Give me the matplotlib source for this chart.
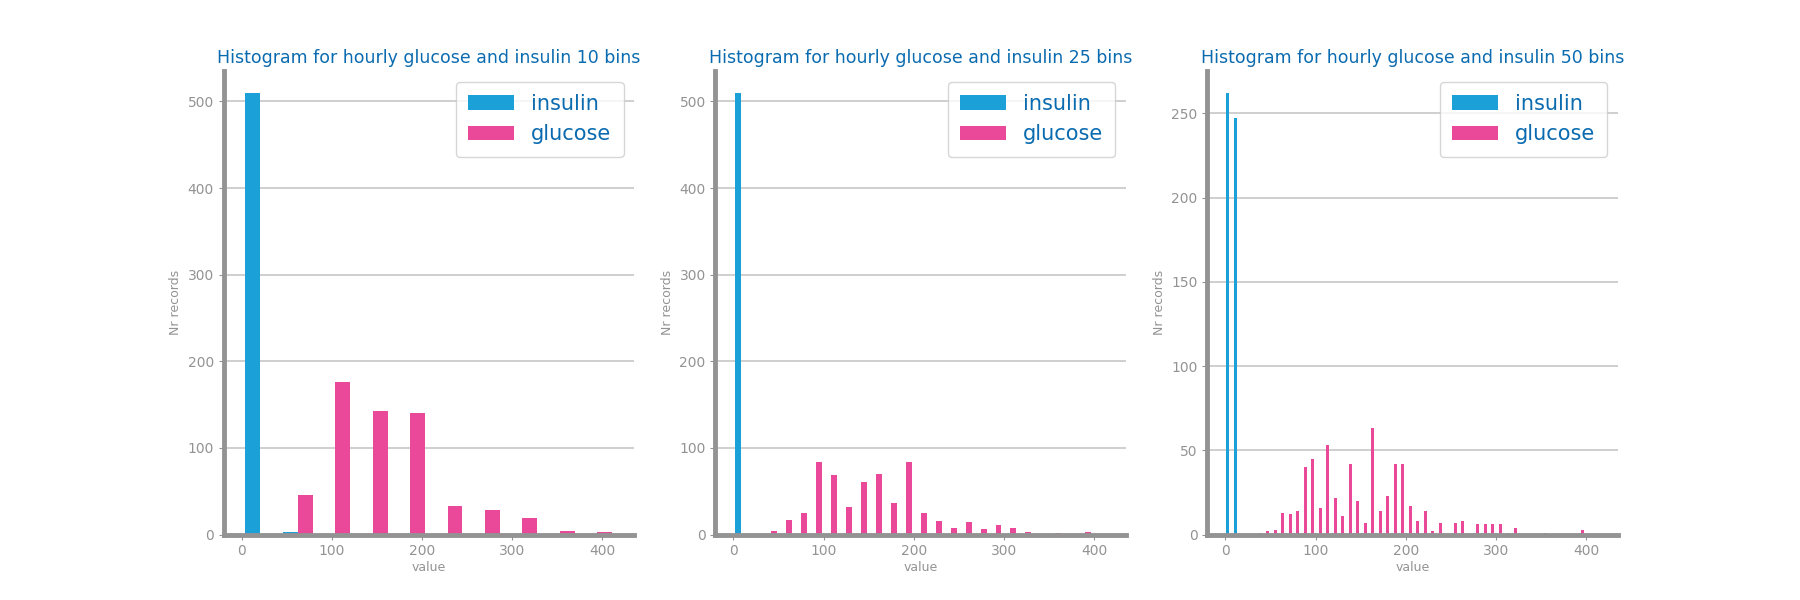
import numpy as np
import matplotlib
matplotlib.use("Agg")
import matplotlib.pyplot as plt

vmin, vmax = 0, 415
bins_list = [10, 25, 50]
insulin = {
    10: [510, 3, 0, 0, 0, 0, 0, 0, 0, 0],
    25: [510] + [0]*24,
    50: [262, 247] + [0]*48,
}
glucose = {
    10: [0, 46, 176, 143, 140, 33, 28, 19, 4, 3],
    25: [0, 0, 4, 17, 25, 84, 69, 32, 61, 70, 37, 84, 25, 16, 8, 15, 7, 11, 8, 3, 1, 2, 1, 3, 0],
    50: [0, 0, 0, 0, 1, 2, 3, 13, 12, 14, 40, 45, 16, 53, 22, 11, 42, 20, 7, 63, 14, 23, 42, 42, 17,
         8, 14, 2, 7, 0, 7, 8, 0, 6, 6, 6, 6, 1, 4, 0, 0, 0, 1, 0, 0, 0, 0, 3, 0, 0],
}
ylims = {10: 535, 25: 535, 50: 275}
ticks = {10: [0, 100, 200, 300, 400, 500], 25: [0, 100, 200, 300, 400, 500], 50: [0, 50, 100, 150, 200, 250]}

C_INS = "#1ba1d8"
C_GLU = "#ea4899"
GRAY = "#939393"
TITLE = "#0a6bb0"

fig = plt.figure(figsize=(18, 6), dpi=100)
W, H = 1570.0, 523.0
lefts = [195, 624, 1053]
for left, nb in zip(lefts, bins_list):
    ax = fig.add_axes([left/W, 1-466/H, 358/W, (466-62)/H])
    edges = np.linspace(vmin, vmax, nb+1)
    w = edges[1]-edges[0]
    ax.bar(edges[:-1]+0.3*w, insulin[nb], width=0.4*w, color=C_INS, label="insulin", zorder=3)
    ax.bar(edges[:-1]+0.7*w, glucose[nb], width=0.4*w, color=C_GLU, label="glucose", zorder=3)
    ax.set_xlim(-20, 435)
    ax.set_ylim(0, ylims[nb])
    ax.set_yticks(ticks[nb])
    ax.set_xticks([0, 100, 200, 300, 400])
    ax.grid(axis="y", color="#cccccc", linewidth=1.3, zorder=0)
    for s in ["top", "right"]:
        ax.spines[s].set_visible(False)
    for s in ["left", "bottom"]:
        ax.spines[s].set_color(GRAY)
        ax.spines[s].set_linewidth(3.5)
    ax.spines["bottom"].set_zorder(4)
    ax.tick_params(colors=GRAY, labelcolor=GRAY, labelsize=10)
    ax.set_xlabel("value", color=GRAY, fontsize=9, labelpad=2)
    ax.set_ylabel("Nr records", color=GRAY, fontsize=9)
    ax.set_title(f"Histogram for hourly glucose and insulin {nb} bins", color=TITLE, fontsize=12.5)
    leg = ax.legend(loc="upper right", fontsize=15, handlelength=2.2, borderpad=0.6)
    for t in leg.get_texts():
        t.set_color(TITLE)
fig.savefig("out.png", dpi=100)
